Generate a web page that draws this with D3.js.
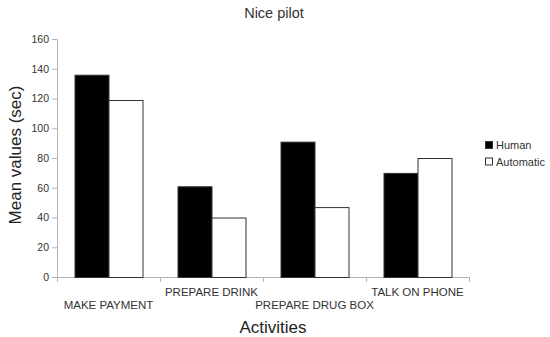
<!DOCTYPE html>
<html>
<head>
<meta charset="utf-8">
<script src="https://cdn.jsdelivr.net/npm/d3@7"></script>
<style>
  body { margin: 0; background: #fff; }
  text { font-family: "Liberation Sans", Arial, sans-serif; }
</style>
</head>
<body>
<div class="canvas"></div>
<script>
const width = 550;
const height = 337;

// chart data
const activities = ["MAKE PAYMENT", "PREPARE DRINK", "PREPARE DRUG BOX", "TALK ON PHONE"];
const seriesNames = ["Human", "Automatic"];
const human = [136, 61, 91, 70];
const automatic = [119, 40, 47, 80];
const yTicks = [0, 20, 40, 60, 80, 100, 120, 140, 160];

const colors = { Human: "#000", Automatic: "#fff" };

const svg = d3.select(".canvas")
  .append("svg")
  .attr("width", width)
  .attr("height", height);

const margin = { top: 39, left: 57, right: 81, bottom: 60 };
const graphWidth = width - margin.left - margin.right;
const graphHeight = height - margin.top - margin.bottom;

const graph = svg.append("g")
  .attr("transform", `translate(${margin.left}, ${margin.top})`);

const x0 = d3.scaleBand()
  .domain(activities)
  .range([0, graphWidth])
  .paddingInner(0.34)
  .paddingOuter(0.17);

const x1 = d3.scaleBand()
  .domain(seriesNames)
  .range([0, x0.bandwidth()]);

const yScale = d3.scaleLinear()
  .domain([0, 160])
  .range([graphHeight, 0]);

// y axis
const yAxis = graph.append("g")
  .call(d3.axisLeft(yScale).tickValues(yTicks).tickSize(5).tickPadding(3));
yAxis.select(".domain").attr("stroke", "#b5b5b5");
yAxis.selectAll(".tick line").attr("stroke", "#b5b5b5");
yAxis.selectAll(".tick text")
  .attr("fill", "#333")
  .style("font-size", "10.5px");

// x axis with ticks at category boundaries
const step = graphWidth / activities.length;
const xAxisG = graph.append("g")
  .attr("transform", `translate(0, ${graphHeight})`);
xAxisG.append("line")
  .attr("x1", 0).attr("x2", graphWidth)
  .attr("y1", 0.5).attr("y2", 0.5)
  .attr("stroke", "#b5b5b5");
xAxisG.selectAll(".xtick")
  .data(d3.range(activities.length + 1))
  .enter()
  .append("line")
  .attr("x1", i => i * step + 0.5)
  .attr("x2", i => i * step + 0.5)
  .attr("y1", 0)
  .attr("y2", 5)
  .attr("stroke", "#b5b5b5");

xAxisG.selectAll(".xlabel")
  .data(activities)
  .enter()
  .append("text")
  .attr("x", d => x0(d) + x0.bandwidth() / 2)
  .attr("y", (d, i) => i % 2 === 1 ? 19 : 32)
  .attr("text-anchor", "middle")
  .attr("fill", "#333")
  .style("font-size", "11.5px")
  .text(d => d);

// bars
const groups = graph.selectAll(".group")
  .data(activities)
  .enter()
  .append("g")
  .attr("transform", d => `translate(${x0(d)}, 0)`);

groups.selectAll("rect")
  .data((d, i) => [
    { key: "Human", value: human[i] },
    { key: "Automatic", value: automatic[i] }
  ])
  .enter()
  .append("rect")
  .attr("x", d => x1(d.key) + 0.5)
  .attr("y", d => yScale(d.value) + 0.5)
  .attr("width", x1.bandwidth())
  .attr("height", d => graphHeight - yScale(d.value))
  .attr("fill", d => colors[d.key])
  .attr("stroke", "#333")
  .attr("stroke-width", 1);

// title and axis labels
svg.append("text")
  .attr("x", 274)
  .attr("y", 18)
  .attr("text-anchor", "middle")
  .attr("fill", "#333")
  .style("font-size", "14.5px")
  .text("Nice pilot");

svg.append("text")
  .attr("x", 273)
  .attr("y", 333)
  .attr("text-anchor", "middle")
  .attr("fill", "#222")
  .style("font-size", "17px")
  .text("Activities");

svg.append("text")
  .attr("transform", "translate(21, 155) rotate(-90)")
  .attr("text-anchor", "middle")
  .attr("fill", "#222")
  .style("font-size", "17px")
  .text("Mean values (sec)");

// legend
const legend = svg.append("g")
  .attr("transform", "translate(485, 141)");
const items = legend.selectAll("g")
  .data(seriesNames)
  .enter()
  .append("g")
  .attr("transform", (d, i) => `translate(0, ${i * 16.5})`);
items.append("rect")
  .attr("x", 0.5).attr("y", 0.5)
  .attr("width", 7).attr("height", 7)
  .attr("fill", d => colors[d])
  .attr("stroke", "#333");
items.append("text")
  .attr("x", 11)
  .attr("y", 8)
  .attr("fill", "#333")
  .style("font-size", "11px")
  .text(d => d);
</script>
</body>
</html>
